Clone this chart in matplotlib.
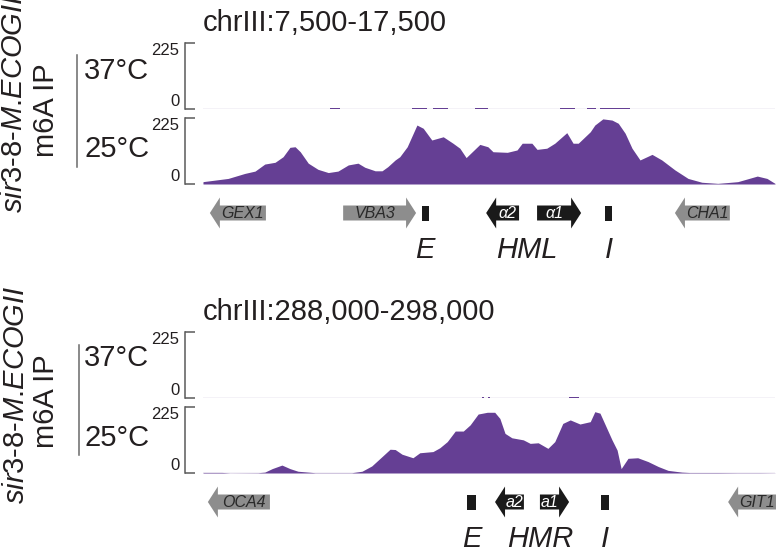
import matplotlib
matplotlib.use("Agg")
import matplotlib.pyplot as plt
from matplotlib.patches import Polygon, Rectangle

plt.rcParams['font.family'] = ['Liberation Sans', 'DejaVu Sans']
plt.rcParams['mathtext.fontset'] = 'custom'
plt.rcParams['mathtext.rm'] = 'Liberation Sans'
plt.rcParams['mathtext.it'] = 'Liberation Sans:italic'

# ---------------- data ----------------
top_region = (7500, 17500)
top_title = "chrIII:7,500-17,500"
top_pos = [7500, 7940, 8230, 8410, 8580, 8760, 8900, 9020, 9110, 9200, 9340, 9510, 9690, 9860,
           10040, 10210, 10330, 10510, 10630, 10730, 10860, 10940, 11070, 11240, 11350, 11500,
           11700, 11870, 11990, 12100, 12340, 12480, 12570, 12820, 12990, 13080, 13250, 13340,
           13510, 13650, 13860, 13970, 14060, 14270, 14350, 14490, 14650, 14760, 14880, 15000,
           15140, 15350, 15520, 15750, 15980, 16220, 16500, 16850, 17190, 17360, 17500]
top_25C = [8, 19, 36, 44, 68, 74, 93, 125, 127, 110, 71, 50, 39, 44, 65, 71, 57, 45, 45, 59, 82,
           93, 127, 201, 190, 150, 161, 139, 122, 90, 135, 127, 110, 108, 116, 139, 139, 118, 122,
           139, 175, 139, 139, 178, 201, 222, 218, 207, 173, 122, 82, 101, 82, 48, 19, 6, 2, 8,
           27, 19, 2]
top_37C_start = [9720, 11150, 11520, 12250, 13740, 14210, 14440]
top_37C_end = [9900, 11420, 11780, 12480, 14000, 14370, 14960]
top_37C_val = [3, 3, 3, 3, 3, 3, 3]

top_genes = ["GEX1", "VBA3", "α2", "α1", "CHA1"]
top_gene_start = [7620, 9950, 12450, 13340, 15750]
top_gene_end = [8600, 11225, 13025, 14110, 16710]
top_gene_strand = ["-", "+", "-", "+", "-"]
top_gene_kind = ["other", "other", "mat", "mat", "other"]
top_sil_start = [11330, 14530]
top_sil_end = [11450, 14650]
top_labels = ["E", "HML", "I"]
top_label_pos = [11380, 13165, 14600]

bot_region = (288000, 298000)
bot_title = "chrIII:288,000-298,000"
bot_pos = [288000, 288330, 288470, 288960, 289080, 289210, 289380, 289520, 289660, 289840,
           289960, 290600, 290780, 290950, 291130, 291270, 291360, 291480, 291670, 291790,
           292020, 292140, 292270, 292410, 292550, 292670, 292810, 292970, 293100, 293190,
           293280, 293400, 293600, 293720, 293860, 294030, 294150, 294290, 294420, 294590,
           294770, 294850, 294940, 295060, 295150, 295240, 295310, 295430, 295600, 295780,
           295960, 296130, 296370, 296510, 297000, 297340, 297600, 297740, 298000]
bot_25C = [2, 2, 0.5, 1, 3, 15, 27, 15, 6, 3, 1, 1, 6, 24, 56, 81, 80, 64, 52, 69, 73, 86, 107,
           143, 143, 164, 201, 207, 207, 186, 135, 120, 113, 101, 103, 84, 107, 169, 181, 167,
           175, 209, 204, 152, 113, 78, 15, 50, 52, 39, 22, 9, 3, 1.5, 1.5, 1, 1, 1, 0.5]
bot_37C_start = [292880, 292980, 294400]
bot_37C_end = [292920, 293020, 294570]
bot_37C_val = [3, 3, 3]

bot_genes = ["OCA4", "a2", "a1", "GIT1"]
bot_gene_start = [288085, 293105, 293890, 297180]
bot_gene_end = [289170, 293610, 294400, 298300]
bot_gene_strand = ["-", "-", "+", "-"]
bot_gene_kind = ["other", "mat", "mat", "other"]
bot_sil_start = [292620, 294960]
bot_sil_end = [292775, 295100]
bot_labels = ["E", "HMR", "I"]
bot_label_pos = [292700, 293890, 295030]

ymax = 225
PURPLE = '#653f94'
BASE = '#c8bedb'
AXC = '#5a5a5a'
TXT = '#231f20'

W, H = 776, 552
fig = plt.figure(figsize=(W / 100, H / 100), dpi=100)


def px_axes(x0, y0, x1, y1):
    return fig.add_axes([x0 / W, 1 - y1 / H, (x1 - x0) / W, (y1 - y0) / H])


def signal_axes(y_top, y_bot, region):
    ax = px_axes(203, y_top, 775, y_bot)
    ax.set_xlim(*region)
    ax.set_ylim(0, ymax)
    for s in ['top', 'right', 'bottom']:
        ax.spines[s].set_visible(False)
    ax.spines['left'].set_position(('outward', 13))
    ax.spines['left'].set_color(AXC)
    ax.spines['left'].set_linewidth(1.1)
    ax.set_xticks([])
    ax.set_yticks([0, ymax])
    ax.set_yticklabels(['0', str(ymax)])
    ax.tick_params(axis='y', direction='in', length=7, width=1.1, color=AXC,
                   labelsize=12, pad=4, labelcolor=TXT)
    ticks = ax.yaxis.get_major_ticks()
    ticks[0].label1.set_verticalalignment('bottom')
    ticks[1].label1.set_verticalalignment('top')
    ax.patch.set_visible(False)
    ax.axhline(0, color=BASE, lw=1.0, zorder=1)
    return ax


def draw_arrow(ax, start, end, strand, name, kind, yc, xmax):
    bh, hh, hl = 7.5, 15.5, 175
    if kind == 'mat':
        fc, tc = '#1a1a1a', 'white'
    else:
        fc, tc = '#8d8d8d', '#2a2a2a'
    if strand == '+':
        hb = end - hl
        pts = [(start, yc - bh), (hb, yc - bh), (hb, yc - hh), (end, yc), (hb, yc + hh),
               (hb, yc + bh), (start, yc + bh)]
        tx = (start + hb) / 2
    else:
        hb = start + hl
        pts = [(end, yc - bh), (hb, yc - bh), (hb, yc - hh), (start, yc), (hb, yc + hh),
               (hb, yc + bh), (end, yc + bh)]
        tx = (hb + min(end, xmax)) / 2
    ax.add_patch(Polygon(pts, closed=True, facecolor=fc, edgecolor='none', clip_on=True))
    ax.text(tx, yc + 0.5, name, ha='center', va='center', fontsize=11.5, style='italic',
            color=tc, clip_on=True)


def panel(y0, region, title, pos, v25, s37, e37, v37, genes, gs, ge, gstr, gk,
          ss, se, labels, lpos, gene_bottom):
    fig.text(203 / W, 1 - (y0 + 31) / H, title, fontsize=21, color=TXT, va='baseline', ha='left')
    ax37 = signal_axes(y0 + 43, y0 + 109, region)
    for s, e, v in zip(s37, e37, v37):
        ax37.fill_between([s, e], 0, [v, v], color=PURPLE, lw=0, zorder=2)
    ax25 = signal_axes(y0 + 118, y0 + 184, region)
    ax25.fill_between(pos, 0, v25, color=PURPLE, lw=0, zorder=2)

    gax = px_axes(203, y0 + 190, 776, gene_bottom)
    xmax = region[1] + 17
    gax.set_xlim(region[0], xmax)
    gax.set_ylim(gene_bottom, y0 + 190)
    gax.axis('off')
    yc = y0 + 213
    for n, s, e, st, k in zip(genes, gs, ge, gstr, gk):
        draw_arrow(gax, s, e, st, n, k, yc, xmax)
    for s, e in zip(ss, se):
        gax.add_patch(Rectangle((s, yc - 7.5), e - s, 15, facecolor='#1a1a1a', edgecolor='none'))
    for t, p in zip(labels, lpos):
        gax.text(p, y0 + 250, t, ha='center', va='center', fontsize=21, style='italic',
                 color=TXT, clip_on=False)


panel(0, top_region, top_title, top_pos, top_25C, top_37C_start, top_37C_end, top_37C_val,
      top_genes, top_gene_start, top_gene_end, top_gene_strand, top_gene_kind,
      top_sil_start, top_sil_end, top_labels, top_label_pos, 272)
panel(289, bot_region, bot_title, bot_pos, bot_25C, bot_37C_start, bot_37C_end, bot_37C_val,
      bot_genes, bot_gene_start, bot_gene_end, bot_gene_strand, bot_gene_kind,
      bot_sil_start, bot_sil_end, bot_labels, bot_label_pos, 552)

for (y37, y25, ybar0, ybar1, ym, xs, xb) in [(71, 149, 55, 167, 110, 14, 77),
                                             (358, 438, 345, 455, 401, 16, 79)]:
    fig.text(84 / W, 1 - y37 / H, "37°C", fontsize=21, color=TXT, va='center', ha='left')
    fig.text(84 / W, 1 - y25 / H, "25°C", fontsize=21, color=TXT, va='center', ha='left')
    fig.add_artist(plt.Line2D([xb / W, xb / W], [1 - ybar0 / H, 1 - ybar1 / H],
                              color='#6a6a6a', lw=1.1))
    fig.text(46 / W, 1 - ym / H, "m6A IP", fontsize=21, color=TXT, rotation=90,
             va='center', ha='center')
    fig.text(xs / W, 1 - (ym - 6) / H, r"$\mathit{sir}$3-8-$\mathit{M}$.$\mathit{ECOGII}$",
             fontsize=21, color=TXT, rotation=90, va='center', ha='center')

fig.savefig("out.png", dpi=100)
